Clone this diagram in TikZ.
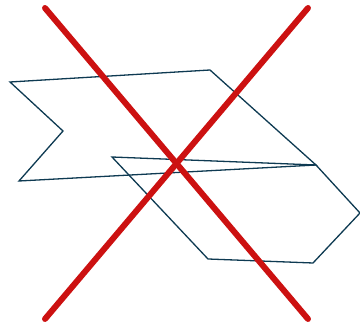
\documentclass[tikz,border=0pt]{standalone}
\definecolor{outline}{HTML}{0E3A52}
\definecolor{crossred}{HTML}{CC1111}
\begin{document}
\begin{tikzpicture}[x=1pt,y=-1pt,
  shapeline/.style={draw=outline,line width=1.3pt,line join=miter},
  crossline/.style={draw=crossred,line width=6pt,line cap=round}]
\useasboundingbox (0,0) rectangle (360,328);
\clip (0,0) rectangle (360,328);
\draw[shapeline] (10,82) -- (210,70) -- (316,165) -- (19,181) -- (63,131) -- cycle;
\draw[shapeline] (112,157) -- (316,165) -- (360,213) -- (313,263) -- (208,259) -- cycle;
\draw[crossline] (45,8) -- (308,319);
\draw[crossline] (308,8) -- (45,319);
\end{tikzpicture}
\end{document}
